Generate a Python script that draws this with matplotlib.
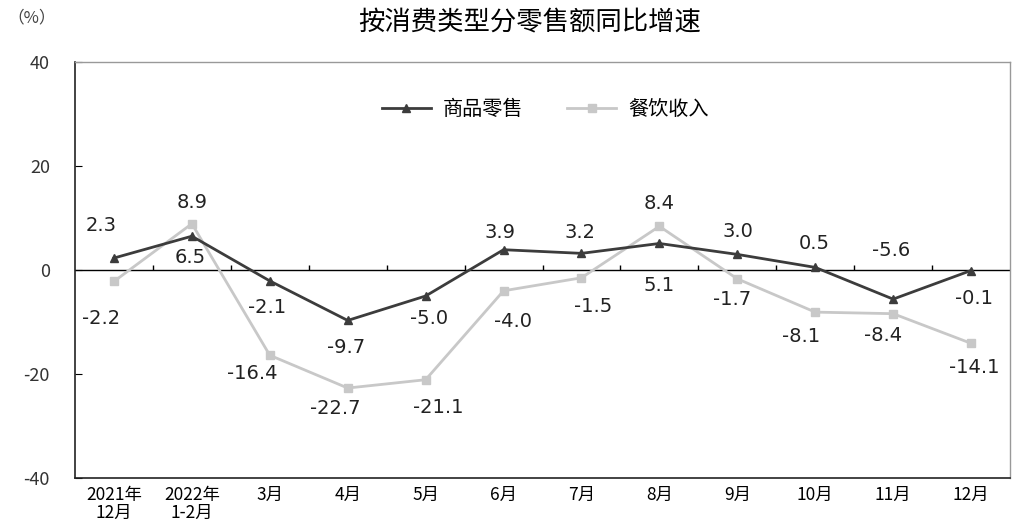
import numpy as np
import matplotlib.pyplot as plt

plt.rcParams['font.family'] = ['Noto Sans CJK SC', 'DejaVu Sans']

months = ['2021年\n12月', '2022年\n1-2月', '3月', '4月', '5月', '6月',
          '7月', '8月', '9月', '10月', '11月', '12月']
retail = [2.3, 6.5, -2.1, -9.7, -5.0, 3.9, 3.2, 5.1, 3.0, 0.5, -5.6, -0.1]
catering = [-2.2, 8.9, -16.4, -22.7, -21.1, -4.0, -1.5, 8.4, -1.7, -8.1, -8.4, -14.1]
yticks = [-40, -20, 0, 20, 40]

# label offsets in pixels (dx, dy) from each point
retail_off = [(-13, 33), (-2, -21), (-3, -27), (-2, -27), (3, -22), (-4, 17),
              (-1, 21), (0, -42), (1, 23), (-1, 24), (-2, 49), (3, -28)]
catering_off = [(-13, -37), (0, 21), (-18, -18), (-12, -20), (13, -28), (9, -31),
                (12, -29), (0, 23), (-5, -21), (-14, -24), (-10, -22), (3, -24)]

dark = '#3c3c3c'
light = '#c8c8c8'

fig = plt.figure(figsize=(10.14, 5.31), dpi=100)
ax = fig.add_axes([75 / 1014, 1 - 478 / 531, 935 / 1014, 416 / 531])

x = np.arange(len(months))
ax.plot(x, catering, color=light, lw=2, marker='s', ms=5.5, label='餐饮收入', zorder=2)
ax.plot(x, retail, color=dark, lw=2, marker='^', ms=6, label='商品零售', zorder=3)

ax.axhline(0, color='black', lw=1, zorder=1)
# small ticks on the zero line between categories
ax.vlines(x[:-1] + 0.5, 0, 1.0, color='black', lw=1)

for xi, v, (dx, dy) in zip(x, retail, retail_off):
    ax.annotate(f'{v:.1f}', (xi, v), xytext=(dx * 0.72, dy * 0.72), textcoords='offset points',
                ha='center', va='center', fontsize=14, family='DejaVu Sans', color='#222222')
for xi, v, (dx, dy) in zip(x, catering, catering_off):
    ax.annotate(f'{v:.1f}', (xi, v), xytext=(dx * 0.72, dy * 0.72), textcoords='offset points',
                ha='center', va='center', fontsize=14, family='DejaVu Sans', color='#222222')

ax.set_xlim(-0.5, len(months) - 0.5)
ax.set_ylim(-40, 40)
ax.set_yticks(yticks)
ax.set_yticklabels([str(t) for t in yticks], fontsize=13, color='#333333')
ax.set_xticks(x)
ax.set_xticklabels(months, fontsize=12.5, linespacing=1.0)
ax.tick_params(axis='x', length=0, pad=6)
ax.tick_params(axis='y', direction='in', length=5, pad=18)

for side in ['left', 'bottom']:
    ax.spines[side].set_color('#222222')
    ax.spines[side].set_linewidth(1.2)
for side in ['top', 'right']:
    ax.spines[side].set_color('#999999')
    ax.spines[side].set_linewidth(1)

h, l = ax.get_legend_handles_labels()
ax.legend(h[::-1], l[::-1], loc='center', bbox_to_anchor=(0.503, 0.885), ncol=2,
          frameon=False, fontsize=14.5, handlelength=2.4, columnspacing=2.2, handletextpad=0.6)

fig.text(530 / 1014, 1 - 22 / 531, '按消费类型分零售额同比增速', ha='center', va='center', fontsize=19)
fig.text(32 / 1014, 1 - 18 / 531, '（%）', ha='center', va='center', fontsize=12, color='#444444')

fig.savefig('out.png', dpi=100)
